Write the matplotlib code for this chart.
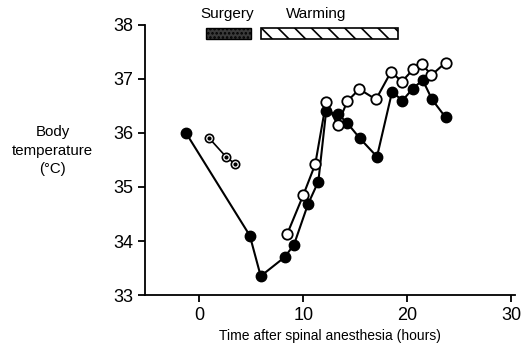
import matplotlib.pyplot as plt
from matplotlib.patches import Rectangle

plt.rcParams['font.family'] = ['Liberation Sans', 'DejaVu Sans']
plt.rcParams['hatch.linewidth'] = 1.2

# filled circles
filled_x = [-1.3, 4.85, 5.9, 8.2, 9.1, 10.45, 11.45, 12.2, 13.35, 14.25, 15.45, 17.1,
            18.55, 19.55, 20.55, 21.5, 22.4, 23.7]
filled_y = [36.0, 34.1, 33.35, 33.7, 33.93, 34.68, 35.1, 36.4, 36.35, 36.18, 35.9, 35.56,
            36.76, 36.6, 36.82, 36.98, 36.62, 36.29]

# open circles
open_x = [8.45, 10.0, 11.15, 12.2, 13.3, 14.25, 15.4, 17.0, 18.45, 19.5, 20.6, 21.4, 22.35, 23.7]
open_y = [34.13, 34.85, 35.42, 36.57, 36.15, 36.59, 36.81, 36.62, 37.13, 36.95, 37.18, 37.28,
          37.07, 37.3]

# dotted circles
dot_x = [0.95, 2.55, 3.4]
dot_y = [35.9, 35.56, 35.43]

# bars at top: (start, end)
surgery = (0.65, 5.0)
warming = (5.95, 19.1)

fig = plt.figure(figsize=(5.31, 3.5), dpi=100)
ax = fig.add_axes([0.273, 0.157, 0.697, 0.772])

ax.plot(filled_x, filled_y, '-o', color='black', lw=1.5, ms=7.5, mfc='black', mec='black', zorder=3)
ax.plot(open_x, open_y, '-o', color='black', lw=1.5, ms=7.5, mfc='white', mec='black', mew=1.3, zorder=4)
ax.plot(dot_x, dot_y, '-o', color='black', lw=1.2, ms=6, mfc='white', mec='black', mew=1.2, zorder=4)
ax.plot(dot_x, dot_y, 'o', color='black', ms=2, zorder=5)

ax.add_patch(Rectangle((surgery[0], 37.74), surgery[1] - surgery[0], 0.2,
                       facecolor='#3a3a3a', edgecolor='black', lw=1, hatch='....', clip_on=False))
ax.add_patch(Rectangle((warming[0], 37.74), warming[1] - warming[0], 0.2,
                       facecolor='white', edgecolor='black', lw=1.2, hatch='\\\\', clip_on=False))
ax.text(2.7, 38.08, 'Surgery', ha='center', va='bottom', fontsize=11)
ax.text(11.2, 38.08, 'Warming', ha='center', va='bottom', fontsize=11)

ax.set_xlim(-5.25, 30.4)
ax.set_ylim(33, 38)
ax.set_xticks([0, 10, 20, 30])
ax.set_yticks([33, 34, 35, 36, 37, 38])
ax.spines['top'].set_visible(False)
ax.spines['right'].set_visible(False)
ax.spines['left'].set_linewidth(1.3)
ax.spines['bottom'].set_linewidth(1.3)
ax.tick_params(axis='both', direction='out', length=5, width=1.3, labelsize=13)

ax.set_xlabel('Time after spinal anesthesia (hours)', fontsize=10, labelpad=4)
fig.text(0.099, 0.57, 'Body\ntemperature\n(\u00b0C)', ha='center', va='center', fontsize=10.8,
         linespacing=1.45)

fig.savefig('out.png', dpi=100)
